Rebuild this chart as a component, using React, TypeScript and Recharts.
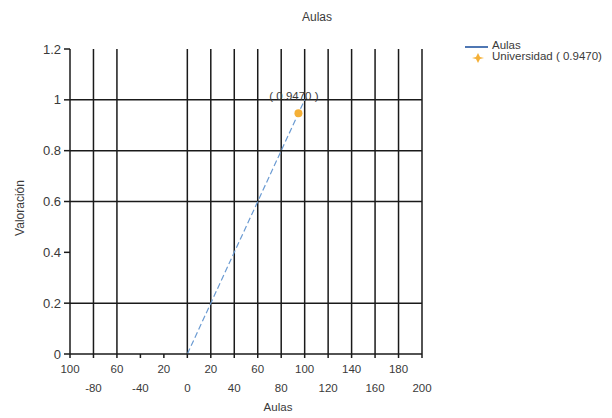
import React from 'react';
import { ComposedChart, Line, Scatter, XAxis, YAxis, ReferenceLine, LabelList } from 'recharts';

const chartTitle = 'Aulas';
const xAxisTitle = 'Aulas';
const yAxisTitle = 'Valoración';
const lineName = 'Aulas';
const pointName = 'Universidad ( 0.9470)';

const aulasX = [0, 20, 40, 60, 80, 100];
const aulasY = [0, 0.2, 0.4, 0.6, 0.8, 1.0];
const uniX = [94.7];
const uniY = [0.947];
const uniLabels = ['( 0.9470 )'];

const xTicks = [-100, -80, -60, -40, -20, 0, 20, 40, 60, 80, 100, 120, 140, 160, 180, 200];
const xTickLabels = ['100', '-80', '60', '-40', '20', '0', '20', '40', '60', '80', '100', '120', '140', '160', '180', '200'];
const yTicks = [0, 0.2, 0.4, 0.6, 0.8, 1, 1.2];
const yTickLabels = ['0', '0.2', '0.4', '0.6', '0.8', '1', '1.2'];
const xGridLines = [-80, -60, 0, 20, 40, 60, 80, 100, 120, 140, 160, 180, 200];
const yGridLines = [0.2, 0.6, 0.8, 1];

const aulasData = aulasX.map((x, i) => ({ x, y: aulasY[i] }));
const uniData = uniX.map((x, i) => ({ x, y: uniY[i], label: uniLabels[i] }));

const FONT = '"Liberation Sans", Arial, sans-serif';
const TEXT = '#3a3a3a';
const GRID = '#1a1a1a';
const BLUE = '#6b9bd2';
const LEGEND_BLUE = '#4f77b3';
const ORANGE = '#f5b036';

const XTick = (props: any) => {
  const { x, y, payload, index } = props;
  const label = xTickLabels[xTicks.indexOf(payload.value)] ?? String(payload.value);
  const row = index % 2;
  return (
    <text x={x} y={y + (row === 0 ? 13 : 32)} textAnchor="middle" fontSize={11.5} fill={TEXT} fontFamily={FONT}>
      {label}
    </text>
  );
};

const YTick = (props: any) => {
  const { x, y, payload } = props;
  const label = yTickLabels[yTicks.indexOf(payload.value)] ?? String(payload.value);
  return (
    <text x={x - 1} y={y + 4.5} textAnchor="end" fontSize={13} fill={TEXT} fontFamily={FONT}>
      {label}
    </text>
  );
};

const PointLabel = (props: any) => {
  const { x, y, value } = props;
  return (
    <text x={x} y={y - 9} textAnchor="middle" fontSize={11.5} fill={TEXT} fontFamily={FONT}>
      {value}
    </text>
  );
};

const Dot = (props: any) => {
  const { cx, cy } = props;
  return <circle cx={cx} cy={cy} r={4} fill={ORANGE} />;
};

export default function App() {
  return (
    <div style={{ position: 'absolute', left: 0, top: 0, width: 612, height: 418, fontFamily: FONT, background: '#fff' }}>
      <ComposedChart width={612} height={418} margin={{ top: 49, right: 190, bottom: 0, left: 0 }}>
        <XAxis
          dataKey="x"
          type="number"
          domain={[-100, 200]}
          ticks={xTicks}
          interval={0}
          allowDataOverflow
          height={64}
          tickSize={4}
          tickMargin={2}
          axisLine={{ stroke: GRID, strokeWidth: 1.5 }}
          tickLine={{ stroke: GRID, strokeWidth: 1.5 }}
          tick={<XTick />}
        />
        <YAxis
          type="number"
          domain={[0, 1.2]}
          ticks={yTicks}
          interval={0}
          width={70}
          tickSize={6}
          tickMargin={2}
          axisLine={{ stroke: GRID, strokeWidth: 1.5 }}
          tickLine={{ stroke: GRID, strokeWidth: 1.5 }}
          tick={<YTick />}
        />
        {xGridLines.map((v) => (
          <ReferenceLine key={'gx' + v} x={v} stroke={GRID} strokeWidth={1.5} />
        ))}
        {yGridLines.map((v) => (
          <ReferenceLine key={'gy' + v} y={v} stroke={GRID} strokeWidth={1.5} />
        ))}
        <Line
          data={aulasData}
          dataKey="y"
          name={lineName}
          stroke={BLUE}
          strokeWidth={1.2}
          strokeDasharray="6 3"
          dot={false}
          activeDot={false}
          isAnimationActive={false}
        />
        <Scatter data={uniData} dataKey="y" name={pointName} fill={ORANGE} shape={<Dot />} isAnimationActive={false}>
          <LabelList dataKey="label" content={<PointLabel />} />
        </Scatter>
      </ComposedChart>

      <div style={{ position: 'absolute', left: 217, width: 200, top: 10, textAlign: 'center', fontSize: 12, color: TEXT }}>
        {chartTitle}
      </div>
      <div style={{ position: 'absolute', left: 178, width: 200, top: 401, textAlign: 'center', fontSize: 11.5, color: TEXT }}>
        {xAxisTitle}
      </div>
      <div
        style={{
          position: 'absolute',
          left: 20,
          top: 208,
          fontSize: 12,
          color: TEXT,
          whiteSpace: 'nowrap',
          transform: 'translate(-50%, -50%) rotate(-90deg)',
        }}
      >
        {yAxisTitle}
      </div>

      <svg style={{ position: 'absolute', left: 460, top: 38 }} width={30} height={28}>
        <line x1={5} y1={9} x2={28} y2={9} stroke={LEGEND_BLUE} strokeWidth={2} />
        <path d="M18 15 L20 19 L24 20 L20 21 L18 25 L16 21 L12 20 L16 19 Z" fill={ORANGE} />
      </svg>
      <div style={{ position: 'absolute', left: 492, top: 39, fontSize: 11.5, color: TEXT, lineHeight: '13px' }}>
        {lineName}
      </div>
      <div style={{ position: 'absolute', left: 492, top: 50, fontSize: 11.5, color: TEXT, lineHeight: '13px', whiteSpace: 'nowrap' }}>
        {pointName}
      </div>
    </div>
  );
}
